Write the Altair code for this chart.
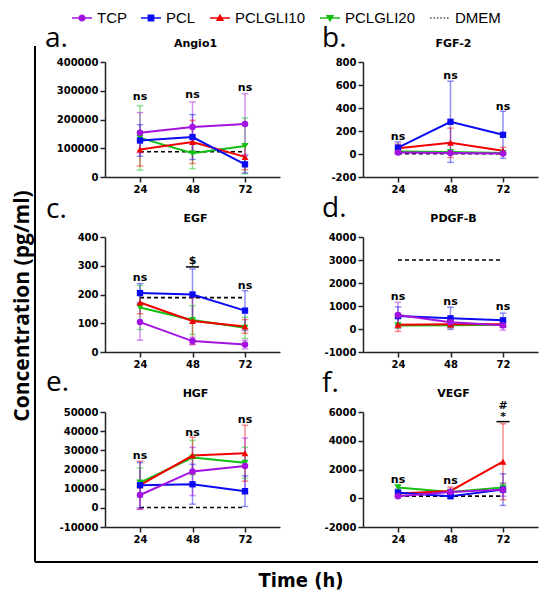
import altair as alt
import pandas as pd

SERIES = ["TCP", "PCL", "PCLGLI10", "PCLGLI20"]
LEGEND_ORDER = SERIES + ["DMEM"]
COLORS = ["#A412E0", "#0B0BF2", "#F20000", "#12BF12", "#000000"]
DRAW_ORDER = ["PCLGLI20", "PCLGLI10", "PCL", "TCP"]
TIMES = [24, 48, 72]

# ---- a. Angio1
angio1_tcp = [154000, 174000, 184000]
angio1_tcp_sd = [70000, 87000, 106000]
angio1_pcl = [127000, 139000, 44000]
angio1_pcl_sd = [55000, 78000, 30000]
angio1_g10 = [96000, 122000, 70000]
angio1_g10_sd = [58000, 75000, 45000]
angio1_g20 = [136000, 83000, 108000]
angio1_g20_sd = [112000, 54000, 97000]
angio1_dmem = 88000
angio1_ann_text = ["ns", "ns", "ns"]
angio1_ann_y = [278000, 284000, 310000]

# ---- b. FGF-2
fgf2_tcp = [14, 8, 5]
fgf2_tcp_sd = [10, 8, 6]
fgf2_pcl = [55, 280, 167]
fgf2_pcl_sd = [50, 353, 205]
fgf2_g10 = [50, 97, 28]
fgf2_g10_sd = [36, 128, 30]
fgf2_g20 = [22, 17, 8]
fgf2_g20_sd = [12, 15, 8]
fgf2_dmem = 3
fgf2_ann_text = ["ns", "ns", "ns"]
fgf2_ann_y = [147, 680, 408]

# ---- c. EGF
egf_tcp = [104, 38, 26]
egf_tcp_sd = [63, 13, 15]
egf_pcl = [205, 200, 144]
egf_pcl_sd = [33, 89, 69]
egf_g10 = [172, 108, 89]
egf_g10_sd = [39, 81, 24]
egf_g20 = [155, 111, 84]
egf_g20_sd = [77, 50, 37]
egf_dmem = 189
egf_ann_text = ["ns", "$", "ns"]
egf_ann_y = [256, 318, 231]
egf_bar_x = [48]
egf_bar_y = [296]

# ---- d. PDGF-B
pdgf_tcp = [605, 295, 165]
pdgf_tcp_sd = [555, 200, 215]
pdgf_pcl = [560, 465, 380]
pdgf_pcl_sd = [400, 480, 310]
pdgf_g10 = [180, 210, 210]
pdgf_g10_sd = [285, 150, 100]
pdgf_g20 = [150, 165, 180]
pdgf_g20_sd = [120, 100, 90]
pdgf_dmem = 3000
pdgf_ann_text = ["ns", "ns", "ns"]
pdgf_ann_y = [1400, 1175, 935]

# ---- e. HGF
hgf_tcp = [6700, 19000, 21800]
hgf_tcp_sd = [7500, 12600, 14600]
hgf_pcl = [11800, 12300, 8700]
hgf_pcl_sd = [11800, 10400, 8000]
hgf_g10 = [11800, 27300, 28500]
hgf_g10_sd = [12500, 9500, 14600]
hgf_g20 = [13200, 26200, 23500]
hgf_g20_sd = [7600, 9000, 8100]
hgf_dmem = 200
hgf_ann_text = ["ns", "ns", "ns"]
hgf_ann_y = [27300, 39300, 45800]

# ---- f. VEGF
vegf_tcp = [140, 440, 600]
vegf_tcp_sd = [100, 200, 460]
vegf_pcl = [390, 140, 600]
vegf_pcl_sd = [250, 120, 1100]
vegf_g10 = [330, 510, 2540]
vegf_g10_sd = [200, 270, 2640]
vegf_g20 = [740, 440, 740]
vegf_g20_sd = [200, 150, 300]
vegf_dmem = 150
vegf_ann_x = [24, 48, 72, 72]
vegf_ann_text = ["ns", "ns", "#", "*"]
vegf_ann_y = [1260, 1190, 6450, 5650]
vegf_bar_x = [72]
vegf_bar_y = [5330]

# legend symbols (marker with a line through it), unit box -1..1
LINE_P = "M-1,-0.075H1V0.075H-1Z "
SYMBOL_PATHS = [
    LINE_P + "M0,-0.36A0.36,0.36 0 1,1 0,0.36A0.36,0.36 0 1,1 0,-0.36Z",
    LINE_P + "M-0.34,-0.34H0.34V0.34H-0.34Z",
    LINE_P + "M0,-0.42L0.42,0.3H-0.42Z",
    LINE_P + "M-0.42,-0.3H0.42L0,0.42Z",
    "M-1,-0.06H-0.84V0.06H-1Z M-0.66,-0.06H-0.5V0.06H-0.66Z M-0.32,-0.06H-0.16V0.06H-0.32Z "
    "M0.02,-0.06H0.18V0.06H0.02Z M0.36,-0.06H0.52V0.06H0.36Z M0.7,-0.06H0.86V0.06H0.7Z",
]
POINT_SHAPES = {"TCP": ("circle", 42), "PCL": ("square", 40),
                "PCLGLI10": ("triangle-up", 48), "PCLGLI20": ("triangle-down", 48)}

W, H = 175, 115
LEGEND_DEF = dict(title=None, orient="none", legendX=-33, legendY=-54,
                  direction="horizontal", columns=5)
XDOM = [8, 88]


def color_enc():
    return alt.Color("series:N", scale=alt.Scale(domain=LEGEND_ORDER, range=COLORS),
                     legend=alt.Legend(**LEGEND_DEF))


def x_enc(field="x"):
    return alt.X(f"{field}:Q", scale=alt.Scale(domain=XDOM, nice=False, zero=False),
                 axis=alt.Axis(values=TIMES, title=None, format="d", labelOverlap=False))


def y_enc(dom, step, field="y"):
    return alt.Y(f"{field}:Q", scale=alt.Scale(domain=dom, nice=False, zero=False),
                 axis=alt.Axis(values=list(range(dom[0], dom[1] + 1, step)), title=None,
                               format="d", labelOverlap=False, labelFlush=False,
                               labelExpr="replace(datum.label, '\u2212', '-')"))


def panel(title, letter, letter_pos, means, sds, dmem, dom, step,
          ann_text, ann_y, ann_x=None, bar_x=None, bar_y=None, extra=None):
    rows = []
    for s in DRAW_ORDER:
        for t, m, sd in zip(TIMES, means[s], sds[s]):
            rows.append(dict(series=s, x=t, y=m, lo=m - sd, hi=m + sd))
    df = pd.DataFrame(rows)
    caps = pd.concat([df.assign(y=df["lo"]), df.assign(y=df["hi"])])
    caps = caps.assign(x=caps["x"] - 1.5, x1=caps["x"] + 1.5)

    xe, ye = x_enc(), y_enc(dom, step)
    layers = []
    if extra is not None:
        layers.extend(extra["pre"])
    # DMEM dashed line
    dm = pd.DataFrame({"series": "DMEM", "x": TIMES, "y": [dmem] * 3})
    layers.append(alt.Chart(dm).mark_line(strokeDash=[4, 3], strokeWidth=1.6, color="black")
                  .encode(x=xe, y=ye))
    # error bars
    layers.append(alt.Chart(df).mark_rule(strokeWidth=1.5, strokeOpacity=0.45)
                  .encode(x=xe, y=y_enc(dom, step, "lo"), y2="hi:Q", color=color_enc()))
    layers.append(alt.Chart(caps).mark_rule(strokeWidth=1.5, strokeOpacity=0.45)
                  .encode(x=xe, x2="x1:Q", y=ye, color=color_enc()))
    # lines
    layers.append(alt.Chart(df).mark_line(strokeWidth=2)
                  .encode(x=xe, y=ye, color=color_enc(), detail="series:N"))
    # points
    for s in DRAW_ORDER:
        shp, sz = POINT_SHAPES[s]
        layers.append(alt.Chart(df[df["series"] == s]).mark_point(
            filled=True, shape=shp, size=sz, opacity=1)
            .encode(x=xe, y=ye, color=color_enc()))
    # annotations
    ann = pd.DataFrame({"x": ann_x if ann_x else TIMES, "y": ann_y, "label": ann_text})
    layers.append(alt.Chart(ann).mark_text(font="DejaVu Sans", fontWeight="bold", fontSize=11,
                                           baseline="middle", color="black")
                  .encode(x=xe, y=ye, text="label:N"))
    if bar_x:
        bars = pd.DataFrame({"x": [v - 3 for v in bar_x], "x1": [v + 3 for v in bar_x], "y": bar_y})
        layers.append(alt.Chart(bars).mark_rule(strokeWidth=1.5, color="black")
                      .encode(x=xe, x2="x1:Q", y=ye))
    # panel letter and panel title
    lt = pd.DataFrame({"t": [letter], "title": [title]})
    layers.append(alt.Chart(lt).mark_text(font="Open Sans", fontSize=28, align="left",
                                          baseline="alphabetic", color="black")
                  .encode(text="t:N", x=alt.value(letter_pos[0]), y=alt.value(letter_pos[1])))
    layers.append(alt.Chart(lt).mark_text(font="DejaVu Sans", fontWeight="bold", fontSize=11,
                                          align="center", baseline="alphabetic", color="black")
                  .encode(text="title:N", x=alt.value(W / 2 + 3), y=alt.value(-15)))
    if extra is not None:
        layers.extend(extra["post"])
    return alt.layer(*layers).properties(width=W, height=H)


def m(a, b, c, d):
    return {"TCP": a, "PCL": b, "PCLGLI10": c, "PCLGLI20": d}


# legend source layer (no visible marks)
legend_df = pd.DataFrame({"series": LEGEND_ORDER})
legend_layer = alt.Chart(legend_df).mark_point(filled=True, size=400, opacity=1).encode(
    color=color_enc(),
    shape=alt.Shape("series:N", scale=alt.Scale(domain=LEGEND_ORDER, range=SYMBOL_PATHS),
                    legend=alt.Legend(**LEGEND_DEF)),
).transform_filter("false")

# figure frame and global titles (drawn in panel e)
one = pd.DataFrame({"t": ["Time (h)"]})
ylab = pd.DataFrame({"t": ["Concentration (pg/ml)"]})
frame_layers = [
    alt.Chart(one).mark_rule(color="black", strokeWidth=2)
    .encode(x=alt.value(-70), y=alt.value(-366), y2=alt.value(150)),
    alt.Chart(one).mark_rule(color="black", strokeWidth=2)
    .encode(x=alt.value(-70), x2=alt.value(433), y=alt.value(150)),
    alt.Chart(one).mark_text(font="DejaVu Sans Condensed", fontWeight="bold", fontSize=20,
                             baseline="middle", align="center", color="black")
    .encode(text="t:N", x=alt.value(196), y=alt.value(169)),
    alt.Chart(ylab).mark_text(font="Open Sans", fontWeight="bold", fontSize=21, angle=270,
                              baseline="middle", align="center", color="black")
    .encode(text="t:N", x=alt.value(-82), y=alt.value(-106)),
]

pa = panel("Angio1", "a.", (-60, -15),
           m(angio1_tcp, angio1_pcl, angio1_g10, angio1_g20),
           m(angio1_tcp_sd, angio1_pcl_sd, angio1_g10_sd, angio1_g20_sd),
           angio1_dmem, [0, 400000], 100000, angio1_ann_text, angio1_ann_y,
           extra={"pre": [legend_layer], "post": []})
pb = panel("FGF-2", "b.", (-41, -15),
           m(fgf2_tcp, fgf2_pcl, fgf2_g10, fgf2_g20),
           m(fgf2_tcp_sd, fgf2_pcl_sd, fgf2_g10_sd, fgf2_g20_sd),
           fgf2_dmem, [-200, 800], 200, fgf2_ann_text, fgf2_ann_y)
pc = panel("EGF", "c.", (-59, -19),
           m(egf_tcp, egf_pcl, egf_g10, egf_g20),
           m(egf_tcp_sd, egf_pcl_sd, egf_g10_sd, egf_g20_sd),
           egf_dmem, [0, 400], 100, egf_ann_text, egf_ann_y,
           bar_x=egf_bar_x, bar_y=egf_bar_y)
pd_ = panel("PDGF-B", "d.", (-41, -20),
            m(pdgf_tcp, pdgf_pcl, pdgf_g10, pdgf_g20),
            m(pdgf_tcp_sd, pdgf_pcl_sd, pdgf_g10_sd, pdgf_g20_sd),
            pdgf_dmem, [-1000, 4000], 1000, pdgf_ann_text, pdgf_ann_y)
pe = panel("HGF", "e.", (-59, -21),
           m(hgf_tcp, hgf_pcl, hgf_g10, hgf_g20),
           m(hgf_tcp_sd, hgf_pcl_sd, hgf_g10_sd, hgf_g20_sd),
           hgf_dmem, [-10000, 50000], 10000, hgf_ann_text, hgf_ann_y,
           extra={"pre": [], "post": frame_layers})
pf = panel("VEGF", "f.", (-41, -20),
           m(vegf_tcp, vegf_pcl, vegf_g10, vegf_g20),
           m(vegf_tcp_sd, vegf_pcl_sd, vegf_g10_sd, vegf_g20_sd),
           vegf_dmem, [-2000, 6000], 2000, vegf_ann_text, vegf_ann_y, ann_x=vegf_ann_x,
           bar_x=vegf_bar_x, bar_y=vegf_bar_y)

chart = alt.concat(pa, pb, pc, pd_, pe, pf, columns=2,
                   spacing={"row": 60, "column": 83}, bounds="flush").properties(
    padding={"left": 3, "top": 0, "right": 0, "bottom": 0}
).configure_view(stroke=None).configure_axis(
    domainColor="#222222", domainWidth=1.5, tickColor="#222222", tickWidth=1.5, tickSize=5,
    labelFont="DejaVu Sans", labelFontWeight="bold", labelFontSize=10, labelColor="black",
    labelPadding=2, grid=False, labelOverlap=False, labelFlush=False
).configure_legend(
    labelFont="Liberation Sans", labelFontSize=15, labelColor="black", symbolSize=400,
    symbolStrokeWidth=0, columnPadding=14, labelOffset=5, symbolOpacity=1
)

chart.save("out.html", embed_options={"renderer": "svg", "actions": False})
